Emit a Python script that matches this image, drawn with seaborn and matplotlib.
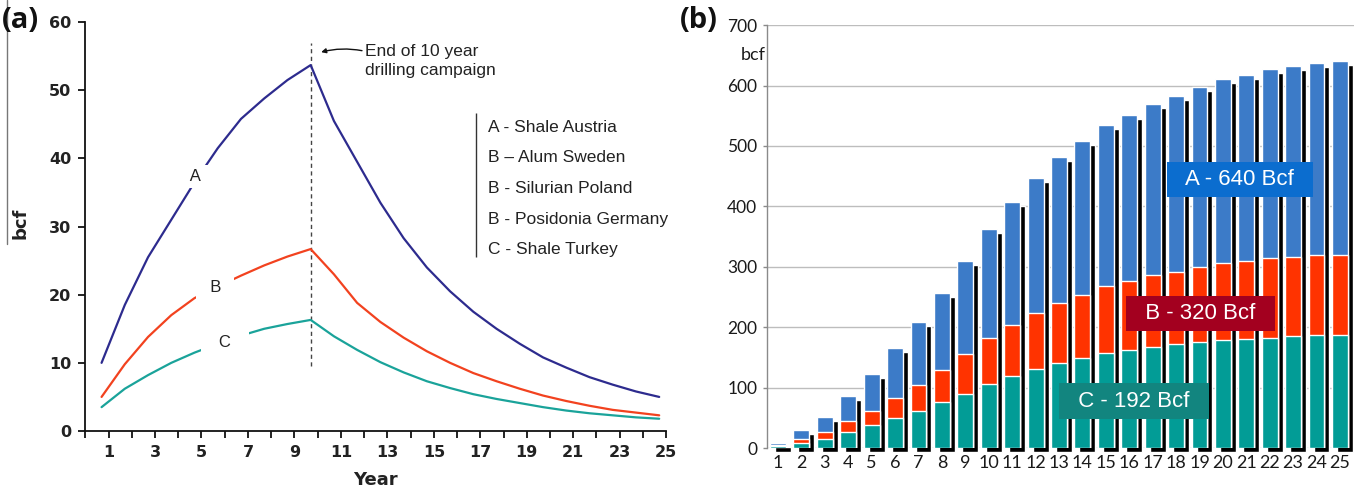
import numpy as np
import pandas as pd
import matplotlib
matplotlib.use("Agg")
import matplotlib.pyplot as plt
import matplotlib.transforms as mtransforms
from matplotlib.lines import Line2D
import seaborn as sns

# ---- (a) annual production per shale play group, bcf ----
years = list(range(1, 26))
prod_a = [10.0, 18.5, 25.5, 31.0, 36.5, 41.5, 45.8, 48.8, 51.5, 53.7,
          45.5, 39.5, 33.5, 28.3, 24.0, 20.5, 17.5, 15.0, 12.8, 10.8,
          9.3, 7.9, 6.8, 5.8, 5.0]
prod_b = [5.0, 9.8, 13.8, 17.0, 19.5, 21.2, 22.8, 24.3, 25.6, 26.7,
          23.0, 18.8, 16.0, 13.7, 11.7, 10.0, 8.5, 7.3, 6.2, 5.2,
          4.4, 3.7, 3.1, 2.7, 2.3]
prod_c = [3.5, 6.2, 8.2, 10.0, 11.5, 12.8, 14.0, 15.0, 15.7, 16.3,
          13.9, 11.9, 10.1, 8.6, 7.3, 6.3, 5.4, 4.7, 4.1, 3.5,
          3.0, 2.6, 2.3, 2.0, 1.8]
legend_lines = ["A - Shale Austria", "B \u2013 Alum Sweden", "B - Silurian Poland",
                "B - Posidonia Germany", "C - Shale Turkey"]

# ---- (b) cumulative production, bcf ----
cum_a = [9, 30, 52, 87, 122, 165, 209, 257, 310, 363, 408, 447, 482, 509, 535,
         552, 570, 582, 597, 610, 618, 627, 632, 637, 640]
cum_b = [5, 16, 27, 45, 62, 83, 105, 130, 156, 182, 204, 224, 241, 254, 268,
         277, 286, 292, 299, 306, 310, 315, 317, 319, 320]
cum_c = [3, 9, 16, 27, 38, 50, 62, 76, 90, 107, 119, 131, 141, 150, 157,
         163, 167, 172, 176, 179, 181, 183, 186, 187, 188]
totals = {"A": 640, "B": 320, "C": 192}

navy, red, teal = "#2d2b8e", "#f2421f", "#1aa39a"
bar_blue, bar_red, bar_teal = "#3c7bc8", "#ff3300", "#029c96"

sns.set_style("white")
plt.rcParams["font.family"] = ["DejaVu Sans"]

fig = plt.figure(figsize=(13.54, 4.92), dpi=100)
ax1 = fig.add_axes([0.063, 0.124, 0.429, 0.831])
ax2 = fig.add_axes([0.5665, 0.089, 0.4335, 0.860])

# ---------------- panel (a) ----------------
t = np.array(years) - 0.3
for vals, col in [(prod_a, navy), (prod_b, red), (prod_c, teal)]:
    sns.lineplot(x=t, y=vals, color=col, lw=1.6, ax=ax1, zorder=2)

ax1.set_xlim(0, 25)
ax1.set_ylim(0, 60)
ax1.set_xticks(range(0, 26))
ax1.set_xticklabels([str(v) if v % 2 == 1 else "" for v in range(0, 26)])
ax1.set_yticks(range(0, 61, 10))
for s in ["top", "right"]:
    ax1.spines[s].set_visible(False)
for s in ["left", "bottom"]:
    ax1.spines[s].set_color("#111111")
    ax1.spines[s].set_linewidth(1.3)
ax1.tick_params(axis="both", direction="out", length=5, width=1.3, color="#111111",
                labelsize=11.5, pad=5, bottom=True, left=True)
for lab in ax1.get_xticklabels() + ax1.get_yticklabels():
    lab.set_fontweight("bold")
    lab.set_color("#222222")
ax1.set_xlabel("Year", fontsize=13, fontweight="bold", labelpad=8, color="#222222")

peak_x = t[int(np.argmax(prod_a))]
ax1.vlines(peak_x, 9.6, 57.0, colors="#444444", linestyles=(0, (3, 2.5)), lw=1.0, zorder=1)

label_font = dict(family="Liberation Sans", fontsize=12, color="#222222",
                  ha="center", va="center", zorder=3)
box = dict(boxstyle="square,pad=0.25", fc="white", ec="none")
ax1.text(4.75, 37.3, " A ", bbox=box, **label_font)
ax1.text(5.6, 21.0, "  B  ", bbox=box, **label_font)
ax1.text(6.0, 13.0, "   C   ", bbox=box, **label_font)

ax1.annotate("End of 10 year\ndrilling campaign", xy=(peak_x + 0.45, 55.6),
             xytext=(12.05, 56.8), textcoords="data",
             fontsize=12.5, family="Liberation Sans", color="#222222",
             ha="left", va="top", linespacing=1.3,
             arrowprops=dict(arrowstyle="-|>", color="#111111", lw=1.0,
                             mutation_scale=7, shrinkA=0, shrinkB=0,
                             connectionstyle="arc3,rad=0.12",
                             relpos=(0.0, 0.78)))

ax1.vlines(16.8, 25.5, 46.6, colors="#333333", lw=1.0)
for i, txt in enumerate(legend_lines):
    ax1.text(17.35, 44.6 - i * 4.5, txt, fontsize=12.5, family="Liberation Sans",
             color="#222222", ha="left", va="center")

fig.text(0.0155, 1 - 223 / 492, "bcf", rotation=90, fontsize=13, fontweight="bold",
         ha="center", va="center", color="#222222")
fig.add_artist(Line2D([0.0052, 0.0052], [0.505, 1.0], color="#777777", lw=1.0))
fig.text(0.0015, 1 - 20 / 492, "(a)", fontsize=21, fontweight="bold",
         family="Open Sans", ha="left", va="center", color="#111111")

# ---------------- panel (b) ----------------
df = pd.DataFrame({"year": [str(y) for y in years],
                   "A": cum_a, "B": cum_b, "C": cum_c})
order = df["year"].tolist()

n_before = len(ax2.patches)
sns.barplot(data=df, x="year", y="A", order=order, color="black", width=0.68,
            saturation=1, errorbar=None, ax=ax2, zorder=2)
shadow_shift = ax2.transData + mtransforms.ScaledTranslation(0.05, -0.04, fig.dpi_scale_trans)
for p in ax2.patches[n_before:]:
    p.set_transform(shadow_shift)
    p.set_clip_on(False)

for col, colr in [("A", bar_blue), ("B", bar_red), ("C", bar_teal)]:
    sns.barplot(data=df, x="year", y=col, order=order, color=colr, width=0.68,
                saturation=1, errorbar=None, ax=ax2, zorder=3)

ax2.set_xlim(-0.47, 24.6)
ax2.set_ylim(0, 700)
ax2.set_yticks(range(0, 701, 100))
ax2.grid(axis="y", color="#bdbdbd", lw=1.0, zorder=0)
ax2.set_axisbelow(True)
ax2.set_xlabel("")
ax2.set_ylabel("")
for s in ["top", "right", "bottom"]:
    ax2.spines[s].set_visible(False)
ax2.spines["left"].set_color("#8a8a8a")
ax2.spines["left"].set_linewidth(1.0)
ax2.tick_params(axis="y", direction="out", length=3, width=1.0, color="#8a8a8a",
                labelsize=12.5, pad=4, left=True)
ax2.tick_params(axis="x", length=0, labelsize=13, pad=5)
for lab in ax2.get_xticklabels() + ax2.get_yticklabels():
    lab.set_family("Lato")
    lab.set_color("#1a1a1a")

ax2.text(-1.05, 650, "bcf", fontsize=13, family="Lato", color="#1a1a1a",
         ha="center", va="center", clip_on=False)

box_font = dict(family="Liberation Sans", fontsize=16, color="white",
                ha="center", va="center", zorder=5)
ax2.text(19.72, 445, f"  A - {totals['A']} Bcf  ",
         bbox=dict(boxstyle="square,pad=0.32", fc="#0b6dcf", ec="none"), **box_font)
ax2.text(18.05, 223, f"  B - {totals['B']} Bcf  ",
         bbox=dict(boxstyle="square,pad=0.32", fc="#a3001f", ec="none"), **box_font)
ax2.text(15.2, 78, f"  C - {totals['C']} Bcf  ",
         bbox=dict(boxstyle="square,pad=0.32", fc="#12857f", ec="none"), **box_font)

fig.text(680 / 1354, 1 - 20 / 492, "(b)", fontsize=21, fontweight="bold",
         family="Open Sans", ha="left", va="center", color="#111111")

fig.savefig("out.png", dpi=100)
